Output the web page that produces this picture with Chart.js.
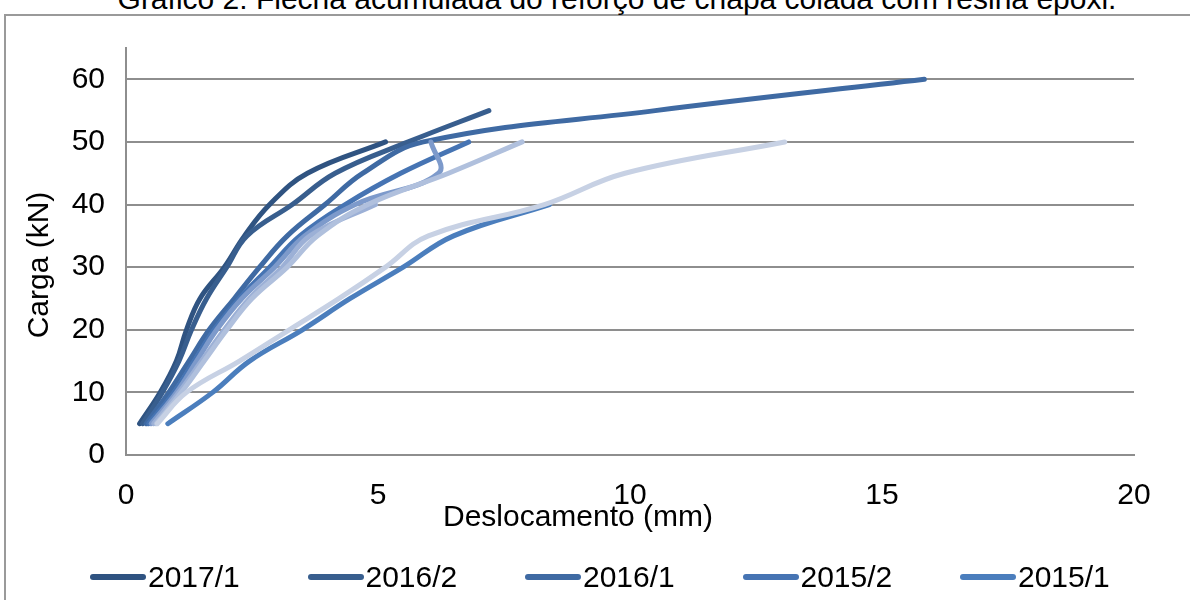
<!DOCTYPE html>
<html lang="pt-BR">
<head>
<meta charset="utf-8">
<title>Flecha acumulada</title>
<script src="https://cdn.jsdelivr.net/npm/chart.js@4.4.1/dist/chart.umd.min.js"></script>
<style>
  html, body { margin: 0; padding: 0; background: #fff; }
  body { width: 1190px; height: 600px; overflow: hidden; position: relative;
         font-family: "Liberation Sans", Arial, sans-serif; color: #000; }
  #moldura { position: absolute; left: 4px; top: 14px; width: 1260px; height: 700px;
             border: 2px solid #9a9a9a; box-sizing: border-box; }
  #titulo { position: absolute; left: 0; width: 1234px; top: -16px; text-align: center;
            font-size: 30px; line-height: 1; white-space: nowrap; }
  #grafico { position: absolute; left: 0; top: 0; }
  .eixo { position: absolute; font-size: 30px; line-height: 1; white-space: nowrap; }
  #eixoX { left: 378px; width: 400px; text-align: center; top: 501px; }
  #eixoY { left: -62px; width: 200px; text-align: center; top: 250px; transform: rotate(-90deg); }
  #legenda { position: absolute; left: 90px; top: 562px; width: 1100px; display: flex; flex-wrap: wrap; row-gap: 24px; }
  .item { width: 217.5px; height: 30px; display: flex; align-items: center; font-size: 30px; line-height: 30px; }
  .traco { width: 56px; height: 6px; border-radius: 3px; margin-right: 2px; }
</style>
</head>
<body>
<div id="moldura"></div>
<div id="titulo">Gráfico 2: Flecha acumulada do reforço de chapa colada com resina epóxi.</div>
<canvas id="grafico" width="1190" height="600"></canvas>
<div class="eixo" id="eixoX">Deslocamento (mm)</div>
<div class="eixo" id="eixoY">Carga (kN)</div>
<div id="legenda"></div>
<script>
// turmas (ordem das séries)
const turmas = ['2017/1', '2016/2', '2016/1', '2015/2', '2015/1', '2014/2', '2014/1', '2013/2', '2013/1'];
const cores = ['#2f5381', '#385e8e', '#3f6aa3', '#4674b3', '#4b7ebd', '#7d9acb', '#9cb0d6', '#b0c0dd', '#c7d1e4'];

// carga (kN) x deslocamento (mm) de cada turma
const carga_2017_1 = [5, 10, 15, 20, 25, 30, 35, 40, 45, 50];
const desloc_2017_1 = [0.27, 0.68, 1.0, 1.2, 1.47, 1.95, 2.35, 2.85, 3.6, 5.15];

const carga_2016_2 = [5, 10, 15, 20, 25, 30, 35, 40, 45, 50, 55];
const desloc_2016_2 = [0.33, 0.72, 1.05, 1.3, 1.6, 2.0, 2.4, 3.3, 4.15, 5.6, 7.2];

const carga_2016_1 = [5, 10, 15, 20, 25, 30, 35, 40, 45, 50, 55, 60];
const desloc_2016_1 = [0.4, 0.85, 1.25, 1.65, 2.15, 2.65, 3.2, 3.95, 4.7, 5.9, 10.5, 15.84];

const carga_2015_2 = [5, 10, 15, 20, 25, 30, 35, 40, 45, 50];
const desloc_2015_2 = [0.45, 0.95, 1.35, 1.75, 2.25, 2.85, 3.45, 4.35, 5.45, 6.8];

const carga_2015_1 = [5, 10, 15, 20, 25, 30, 35, 40];
const desloc_2015_1 = [0.83, 1.72, 2.45, 3.5, 4.45, 5.5, 6.5, 8.4];

const carga_2014_2 = [5, 10, 15, 20, 25, 30, 35, 40, 45, 50];
const desloc_2014_2 = [0.5, 1.0, 1.4, 1.8, 2.3, 2.95, 3.55, 4.55, 6.2, 6.05];

const carga_2014_1 = [5, 10, 15, 20, 25, 30, 35, 40];
const desloc_2014_1 = [0.55, 1.05, 1.5, 1.95, 2.45, 3.1, 3.65, 4.95];

const carga_2013_2 = [5, 10, 15, 20, 25, 30, 35, 40, 45, 50];
const desloc_2013_2 = [0.6, 1.1, 1.55, 2.0, 2.5, 3.2, 3.8, 4.8, 6.4, 7.86];

const carga_2013_1 = [5, 10, 15, 20, 25, 30, 35, 40, 45, 50];
const desloc_2013_1 = [0.62, 1.2, 2.25, 3.24, 4.23, 5.15, 6.0, 8.3, 9.9, 13.07];

const ticksX = [0, 5, 10, 15, 20];
const ticksY = [0, 10, 20, 30, 40, 50, 60];

const series = [
  [desloc_2017_1, carga_2017_1],
  [desloc_2016_2, carga_2016_2],
  [desloc_2016_1, carga_2016_1],
  [desloc_2015_2, carga_2015_2],
  [desloc_2015_1, carga_2015_1],
  [desloc_2014_2, carga_2014_2],
  [desloc_2014_1, carga_2014_1],
  [desloc_2013_2, carga_2013_2],
  [desloc_2013_1, carga_2013_1]
];

const fonte = { family: '"Liberation Sans", Arial, sans-serif', size: 30 };
const cinza = '#8e8e8e';

const datasets = series.map(([xs, ys], i) => ({
  label: turmas[i],
  data: xs.map((x, k) => ({ x: x, y: ys[k] })),
  borderColor: cores[i],
  backgroundColor: cores[i],
  borderWidth: 5,
  borderCapStyle: 'round',
  borderJoinStyle: 'round',
  pointRadius: 0,
  showLine: true,
  tension: 0.4,
  order: -i   // última série desenhada por cima
}));

new Chart(document.getElementById('grafico'), {
  type: 'scatter',
  data: { datasets: datasets },
  options: {
    responsive: false,
    animation: false,
    layout: { padding: { left: 0, top: 48, right: 56, bottom: 85 } },
    plugins: { legend: { display: false }, tooltip: { enabled: false } },
    scales: {
      x: {
        type: 'linear', min: 0, max: 20,
        afterBuildTicks: s => { s.ticks = ticksX.map(v => ({ value: v })); },
        afterFit: s => { s.height = 60; },
        grid: { display: false, drawTicks: false },
        border: { display: true, color: cinza, width: 2 },
        ticks: { color: '#000', font: fonte, padding: 23, maxRotation: 0 }
      },
      y: {
        type: 'linear', min: 0, max: 65,
        afterBuildTicks: s => { s.ticks = ticksY.map(v => ({ value: v })); },
        afterFit: s => { s.width = 126; },
        grid: { color: cinza, lineWidth: 2, drawTicks: false },
        border: { display: true, color: cinza, width: 2 },
        ticks: { color: '#000', font: fonte, padding: 21 }
      }
    }
  }
});

// legenda (a segunda linha fica abaixo da área visível)
const legenda = document.getElementById('legenda');
turmas.forEach((t, i) => {
  const item = document.createElement('div');
  item.className = 'item';
  const traco = document.createElement('span');
  traco.className = 'traco';
  traco.style.background = cores[i];
  item.appendChild(traco);
  item.appendChild(document.createTextNode(t));
  legenda.appendChild(item);
});
</script>
</body>
</html>
